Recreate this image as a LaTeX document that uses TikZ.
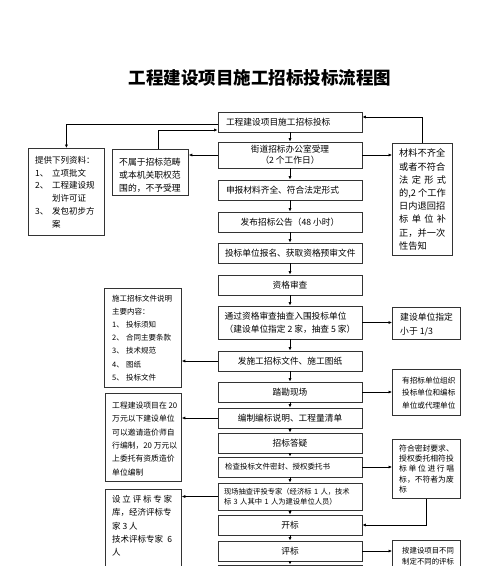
\documentclass[tikz,border=0pt]{standalone}
\usepackage{fontspec}
\setmainfont{Noto Sans CJK SC}
\usetikzlibrary{arrows.meta}
\begin{document}
\begin{tikzpicture}[x=1pt,y=-1pt,
  mbox/.style={draw=black!80, line width=0.8pt, minimum width=144pt, minimum height=20pt, inner sep=0pt, font=\fontsize{8.7}{11}\selectfont},
  sbox/.style={draw=black!80, line width=0.8pt, anchor=north west, inner sep=0pt},
  txt/.style={anchor=north west, inner sep=0pt, align=left},
  fsz/.style 2 args={font=\fontsize{#1}{#2}\selectfont},
  arr/.style={draw=black, line width=0.9pt, -{Latex[length=3.5pt,width=3.2pt]}}
]
\useasboundingbox (0,0) rectangle (500,566);
\clip (0,0) rectangle (500,566);
\fill[white] (0,0) rectangle (500,566);

\node[font=\fontsize{17.5}{20}\selectfont\bfseries] (title) at (260,78) {工程建设项目施工招标投标流程图};

% main column
\node[mbox, text width=128pt, align=left] (m1) at (290,122) {工程建设项目施工招标投标};
\node[mbox, minimum height=26pt, align=center] (m2) at (290,155) {街道招标办公室受理\\（2 个工作日）};
\node[mbox, text width=128pt, align=left] (m3) at (290,190) {申报材料齐全、符合法定形式};
\node[mbox] (m4) at (290,222) {发布招标公告（48 小时）};
\node[mbox, text width=130pt, align=left] (m5) at (290,253) {投标单位报名、获取资格预审文件};
\node[mbox] (m6) at (290,285) {资格审查};
\node[mbox, minimum height=33pt, align=left, fsz={8.7}{13}] (m7) at (290,322.5) {通过资格审查抽查入围投标单位\\（建设单位指定 2 家，抽查 5 家）};
\node[mbox] (m8) at (290,361) {发施工招标文件、施工图纸};
\node[mbox] (m9) at (290,392) {踏勘现场};
\node[mbox] (m10) at (290,418) {编制编标说明、工程量清单};
\node[mbox] (m11) at (290,443) {招标答疑};
\node[mbox, text width=130pt, align=left, fsz={7.5}{10}] (m12) at (290,467) {检查投标文件密封、授权委托书};
\node[mbox, minimum height=27pt, text width=132pt, align=left, fsz={7.3}{10.5}] (m13) at (290,496.5) {现场抽查评投专家（经济标 1 人，技术\\标 3 人其中 1 人为建设单位人员）};
\node[mbox] (m14) at (290,525) {开标};
\node[mbox] (m15) at (290,551) {评标};
\node[mbox] (m16) at (290,575) {};

\foreach \a/\b in {m1/m2,m2/m3,m3/m4,m4/m5,m5/m6,m6/m7,m7/m8,m8/m9,m9/m10,m10/m11,m11/m12,m12/m13,m13/m14,m14/m15,m15/m16}
  \draw[arr] (\a.south) -- (\b.north);

% side boxes
\node[sbox, minimum width=76pt, minimum height=87pt] (tg) at (28,148) {};
\node[sbox, minimum width=76pt, minimum height=46pt] (bs) at (112,149) {};
\node[sbox, minimum width=60pt, minimum height=112pt] (rc1) at (392,143) {};
\node[sbox, minimum width=68pt, minimum height=32pt] (rc2) at (392,307) {};
\node[sbox, minimum width=77pt, minimum height=99pt] (lc2) at (104,288) {};
\node[sbox, minimum width=68pt, minimum height=46pt] (rc3) at (392,369) {};
\node[sbox, minimum width=76pt, minimum height=88pt] (lc3) at (105,393) {};
\node[sbox, minimum width=68pt, minimum height=59pt] (rc4) at (392,439) {};
\node[sbox, minimum width=76pt, minimum height=100pt] (lc4) at (105,489) {};
\node[sbox, minimum width=68pt, minimum height=40pt] (rc5) at (392,540) {};

% side texts
\node[txt, fsz={8.5}{12.7}] (tgT) at (35,156.2) {提供下列资料：\\
\makebox[17pt][l]{1、}立项批文\\
\makebox[17pt][l]{2、}工程建设规\\
\hspace*{17pt}划许可证\\
\makebox[17pt][l]{3、}发包初步方\\
\hspace*{17pt}案};
\node[anchor=north, inner sep=0pt, align=center, fsz={8.8}{13}] (bsT) at (150,158) {不属于招标范畴\\或本机关职权范\\围的，不予受理};
\node[txt, fsz={9.2}{13.2}] (rc1T) at (399,148.9) {材料不齐全\\或者不符合\\\makebox[47pt][s]{法\hfill 定\hfill 形\hfill 式}\\的,2 个工作\\日内退回招\\\makebox[47pt][s]{标\hfill 单\hfill 位\hfill 补}\\正，并一次\\性告知};
\node[txt, fsz={8.8}{14}] (rc2T) at (400,313) {建设单位指定\\小于 1/3};
\node[txt, fsz={7.5}{13.2}] (lc2T) at (112,294.6) {施工招标文件说明\\主要内容：\\
\makebox[14pt][l]{1、}投标须知\\
\makebox[14pt][l]{2、}合同主要条款\\
\makebox[14pt][l]{3、}技术规范\\
\makebox[14pt][l]{4、}图纸\\
\makebox[14pt][l]{5、}投标文件};
\node[txt, fsz={7.6}{12.5}] (rc3T) at (402,376.6) {有招标单位组织\\投标单位和编标\\单位或代理单位};
\node[txt, fsz={7.8}{13.4}] (lc3T) at (112,401.5) {工程建设项目在 20\\万元以下建设单位\\可以邀请造价师自\\行编制，20 万元以\\上委托有资质造价\\单位编制};
\node[txt, fsz={7.8}{10.3}] (rc4T) at (399,444.5) {符合密封要求、\\授权委托相符投\\\makebox[55pt][s]{标\hfill 单\hfill 位\hfill 进\hfill 行\hfill 唱}\\标，不符者为废\\标};
\node[txt, fsz={8.5}{13.3}] (lc4T) at (112,495.2) {\makebox[60pt][s]{设\hfill 立\hfill 评\hfill 标\hfill 专\hfill 家}\\库，经济评标专\\家 3 人\\\makebox[60pt][s]{技术评标专家\hfill 6}\\人};
\node[txt, fsz={7.4}{11}] (rc5T) at (402,547.5) {按建设项目不同\\制定不同的评标};

% connectors
\draw[arr] ([yshift=-2pt]m1.west) -| (tg.north);
\draw[arr] ([xshift=8pt]bs.north) |- ([yshift=-8pt]m1.west);
\draw[arr] (m2.west) -- (m2.west -| bs.east);
\draw[arr] (m2.east) -- (m2.east -| rc1.west);
\draw[arr] (rc1.north) |- ([yshift=5pt]m1.east);
\draw[arr] (m7.east) -- (m7.east -| rc2.west);
\draw[arr] (m8.west) -- (m8.west -| lc2.east);
\draw[arr] (m9.east) -- (m9.east -| rc3.west);
\draw[arr] (m10.west) -- (m10.west -| lc3.east);
\draw[arr] (m12.east) -- (m12.east -| rc4.west);
\draw[arr] (rc4.south) |- (m14.east);
\draw[arr] (m13.west) -- (m13.west -| lc4.east);
\draw[arr] (m15.east) -- (m15.east -| rc5.west);
\end{tikzpicture}
\end{document}
